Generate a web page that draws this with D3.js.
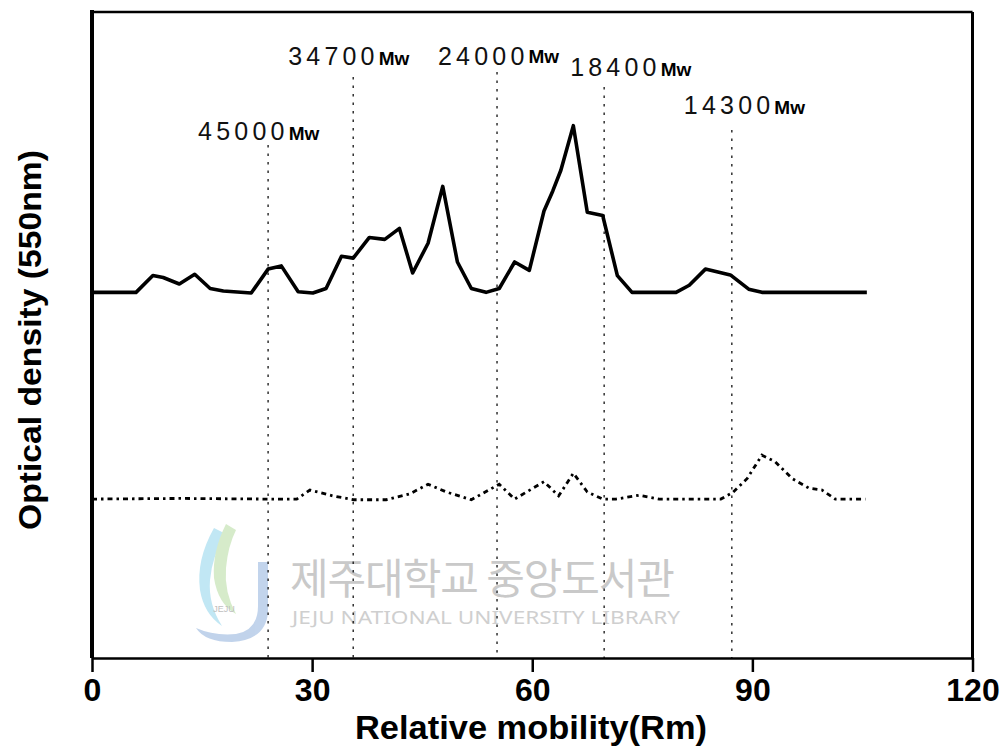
<!DOCTYPE html>
<html lang="en">
  <head>
    <meta charset="UTF-8" />
    <title>Optical density</title>
    <style>
      body {
        margin: 0;
        background: #fff;
      }
      .bold {
        font-family: "Liberation Sans", Arial, sans-serif;
        font-weight: bold;
      }
      .mark {
        font-family: "Liberation Sans", Arial, sans-serif;
      }
    </style>
  </head>
  <body>
    <svg id="chart"></svg>
    <script src="https://cdnjs.cloudflare.com/ajax/libs/d3/7.8.5/d3.min.js"></script>
    <script>
      // densitometer traces: [Rm, OD (arbitrary)]
      const sampleTrace = [
        [0, 56.6], [6, 56.6], [8.3, 59.2], [9.7, 58.9], [11.9, 57.9], [14, 59.4],
        [16.1, 57.2], [17.9, 56.8], [21.7, 56.5], [24, 60.2], [25.8, 60.7], [28.1, 56.7],
        [30.1, 56.5], [31.9, 57.2], [34, 62.2], [35.6, 61.9], [37.8, 65.1], [39.9, 64.8],
        [41.9, 66.5], [43.7, 59.6], [45.8, 64.2], [47.8, 73.0], [49.8, 61.3], [51.7, 57.2],
        [53.7, 56.6], [55.5, 57.2], [57.6, 61.3], [59.6, 60.0], [61.6, 69.2], [62.8, 72.3],
        [63.9, 75.5], [65.6, 82.4], [67.5, 69.0], [69.6, 68.5], [71.6, 59.2], [73.6, 56.6],
        [79.6, 56.6], [81.4, 57.7], [83.6, 60.2], [87.0, 59.3], [89.5, 57.1], [91.3, 56.6],
        [105.6, 56.6]
      ];
      const controlTrace = [
        [0, 24.6], [12, 24.7], [23.8, 24.6], [27.9, 24.6], [29.7, 26.0], [32.8, 25.1],
        [35.6, 24.5], [40.1, 24.5], [43.3, 25.4], [45.8, 26.9], [48.3, 25.7], [51.7, 24.5],
        [55.5, 26.9], [57.6, 24.6], [61.6, 27.3], [63.6, 25.1], [65.6, 28.6], [67.5, 25.7],
        [69.6, 24.6], [71.4, 24.6], [74.6, 25.2], [77.3, 24.6], [85.7, 24.6], [87.3, 25.6],
        [89.3, 27.8], [91.3, 31.4], [93.1, 30.4], [95.4, 27.8], [97.7, 26.3], [99.5, 26.0],
        [101.3, 24.6], [105.4, 24.6]
      ];

      // molecular weight markers
      const markerNames = ["45000", "34700", "24000", "18400", "14300"];
      const markerRm = [24, 35.6, 55.2, 69.8, 87.2];

      const xTicks = [0, 30, 60, 90, 120];

      const W = 1008, H = 754;
      const svg = d3.select("#chart").attr("width", W).attr("height", H);

      const x = d3.scaleLinear().domain([0, 120]).range([92, 972.5]);
      const y = d3.scaleLinear().domain([0, 100]).range([658, 12]);

      // watermark (library stamp)
      const wm = svg.append("g").attr("opacity", 0.55);
      wm.append("path")
        .attr("d", "M258,562 L268,562 L268,612 Q266,640 232,642 Q205,642 196,628 Q214,636 236,634 Q258,630 258,606 Z")
        .attr("fill", "#8fb0dc");
      wm.append("path")
        .attr("d", "M214,528 Q196,560 200,590 Q204,614 222,626 Q208,604 210,580 Q212,556 226,534 Z")
        .attr("fill", "#8fd4ec");
      wm.append("path")
        .attr("d", "M226,524 Q212,552 214,578 Q218,604 236,614 Q224,592 226,568 Q228,546 236,530 Z")
        .attr("fill", "#b6dca0");
      wm.append("text")
        .attr("x", 224).attr("y", 612)
        .attr("text-anchor", "middle")
        .attr("font-family", "Liberation Sans, sans-serif")
        .attr("font-size", 9)
        .attr("fill", "#8a8a8a")
        .text("JEJU");
      svg.append("text")
        .attr("x", 290).attr("y", 594)
        .attr("font-family", "Noto Sans CJK KR, sans-serif")
        .attr("font-size", 42)
        .attr("textLength", 385)
        .attr("fill", "#c9c9c9")
        .text("제주대학교 중앙도서관");
      svg.append("text")
        .attr("x", 292).attr("y", 624)
        .attr("font-family", "Noto Sans, sans-serif")
        .attr("font-size", 18)
        .attr("textLength", 388)
        .attr("lengthAdjust", "spacingAndGlyphs")
        .attr("fill", "#cfcfcf")
        .text("JEJU NATIONAL UNIVERSITY  LIBRARY");

      // marker guide lines and labels
      const labelTop = [145, 77, 72, 87, 130];
      const labelBase = [140, 65, 65, 76, 114];
      const labelDx = [-70, -65, -59, -34, -48];

      svg.append("g")
        .selectAll("line")
        .data(markerRm)
        .join("line")
        .attr("x1", (d) => x(d)).attr("x2", (d) => x(d))
        .attr("y1", (d, i) => labelTop[i]).attr("y2", y(0))
        .attr("stroke", "#222")
        .attr("stroke-width", 1.4)
        .attr("stroke-dasharray", "2.5 6");

      const lab = svg.append("g")
        .selectAll("text")
        .data(markerNames)
        .join("text")
        .attr("class", "mark")
        .attr("x", (d, i) => x(markerRm[i]) + labelDx[i])
        .attr("y", (d, i) => labelBase[i]);
      lab.append("tspan")
        .attr("font-size", 25)
        .attr("letter-spacing", 4.2)
        .attr("fill", "#111")
        .text((d) => d);
      lab.append("tspan")
        .attr("font-size", 19)
        .attr("font-weight", "bold")
        .attr("dy", (d, i) => (i === 2 ? -2 : 0))
        .text("Mw");

      // traces
      const line = d3.line().x((d) => x(d[0])).y((d) => y(d[1]));

      svg.append("path")
        .datum(controlTrace)
        .attr("d", line)
        .attr("fill", "none")
        .attr("stroke", "#000")
        .attr("stroke-width", 2.8)
        .attr("stroke-dasharray", "5 4 2.5 4");

      svg.append("path")
        .datum(sampleTrace)
        .attr("d", line)
        .attr("fill", "none")
        .attr("stroke", "#000")
        .attr("stroke-width", 3.6)
        .attr("stroke-linejoin", "round");

      // frame
      svg.append("line")
        .attr("x1", x(0)).attr("x2", x(120)).attr("y1", y(100)).attr("y2", y(100))
        .attr("stroke", "#000").attr("stroke-width", 2.5);
      svg.append("line")
        .attr("x1", x(120)).attr("x2", x(120)).attr("y1", y(100)).attr("y2", y(0))
        .attr("stroke", "#000").attr("stroke-width", 3);
      svg.append("line")
        .attr("x1", x(0)).attr("x2", x(0)).attr("y1", y(100) - 2).attr("y2", y(0))
        .attr("stroke", "#000").attr("stroke-width", 4);

      const xAxis = svg.append("g")
        .attr("transform", `translate(0,${y(0)})`)
        .call(d3.axisBottom(x).tickValues(xTicks).tickSize(14).tickSizeOuter(0).tickPadding(6));
      xAxis.select(".domain").attr("stroke-width", 2.5);
      xAxis.selectAll(".tick line").attr("stroke-width", 2.5);
      xAxis.selectAll(".tick text")
        .attr("class", "bold")
        .attr("font-size", 32)
        .attr("fill", "#000");

      svg.append("text")
        .attr("class", "bold")
        .attr("x", 531).attr("y", 739)
        .attr("text-anchor", "middle")
        .attr("font-size", 33)
        .attr("textLength", 352)
        .attr("lengthAdjust", "spacingAndGlyphs")
        .text("Relative mobility(Rm)");

      svg.append("text")
        .attr("class", "bold")
        .attr("transform", "translate(41,340) rotate(-90)")
        .attr("text-anchor", "middle")
        .attr("font-size", 32)
        .attr("textLength", 380)
        .attr("lengthAdjust", "spacingAndGlyphs")
        .text("Optical density (550nm)");
    </script>
  </body>
</html>
